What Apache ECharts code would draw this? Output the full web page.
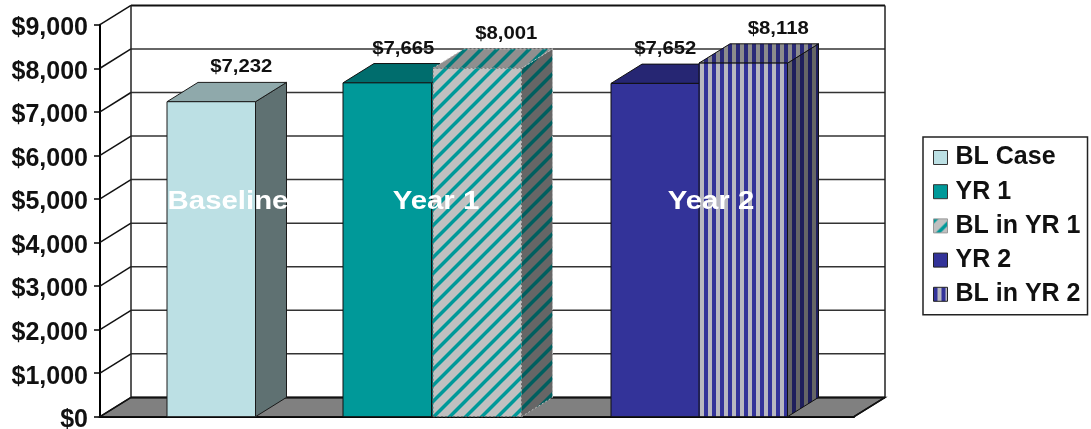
<!DOCTYPE html>
<html>
<head>
<meta charset="utf-8">
<style>html,body{margin:0;padding:0;background:#fff}#chart{width:1091px;height:429px}</style>
<script src="https://cdn.jsdelivr.net/npm/echarts@6/dist/echarts.min.js"></script>
</head>
<body>
<div id="chart"></div>
<script>
// Chart content
const seriesNames = ['BL Case', 'YR 1', 'BL in YR 1', 'YR 2', 'BL in YR 2'];
const seriesValues = [7232, 7665, 8001, 7652, 8118];
const groupLabels = ['Baseline', 'Year 1', 'Year 2'];
const axisTicks = [0, 1000, 2000, 3000, 4000, 5000, 6000, 7000, 8000, 9000];

// Layout of the oblique 3D box, in horizontal axis units (1 unit = 1 px)
const PLOT_WIDTH = 754;
const DEPTH_X = 31;
const DEPTH_Y = -19.3;
const BAR_WIDTH = 88.5;
const barLeft = [67, 243, 333, 511, 599];
const valueLabelShift = [30, 16, 29, 10, 35];
const groupLabelCentre = [128, 336, 611];
const FONT = '"Liberation Sans", Arial, sans-serif';

function stripes(size, bg, fg, diagonal) {
  const c = document.createElement('canvas');
  c.width = c.height = size;
  const g = c.getContext('2d');
  g.fillStyle = bg;
  g.fillRect(0, 0, size, size);
  g.fillStyle = fg;
  if (diagonal) {
    const w = size * 0.31;
    for (const o of [-size, 0, size]) {
      g.beginPath();
      g.moveTo(o, size); g.lineTo(o + w, size);
      g.lineTo(o + size + w, 0); g.lineTo(o + size, 0);
      g.closePath();
      g.fill();
    }
  } else {
    g.fillRect(0, 0, size / 2, size);
  }
  return { image: c, repeat: 'repeat' };
}

const faces = [
  { front: '#bce0e4', top: '#8fa9ab', side: '#5f7172', stroke: '#1a1a1a', rim: '#1a1a1a', dash: null },
  { front: '#009999', top: '#006d6d', side: '#006a6a', stroke: '#111', rim: '#111', dash: null },
  {
    front: stripes(16, '#c0c0c0', '#009999', true),
    top: stripes(16, '#8f8f8f', '#007a7a', true),
    side: stripes(16, '#666666', '#005f5f', true),
    stroke: '#666', rim: '#bbb', dash: [2, 2]
  },
  { front: '#333399', top: '#262673', side: '#1f1f5c', stroke: '#111', rim: '#111', dash: null },
  {
    front: stripes(8, '#b8b8c0', '#333399', false),
    top: stripes(8, '#8c8c8c', '#2a2a78', false),
    side: stripes(8, '#666666', '#1f1f5c', false),
    stroke: '#111', rim: '#111', dash: null
  }
];

function poly(points, fill, stroke, width, dash) {
  return {
    type: 'polygon',
    shape: { points },
    style: { fill, stroke: stroke || null, lineWidth: width === undefined ? 1 : width, lineDash: dash || null }
  };
}
function seg(a, b, stroke, width) {
  return {
    type: 'line',
    shape: { x1: a[0], y1: a[1], x2: b[0], y2: b[1] },
    style: { stroke, lineWidth: width, fill: null }
  };
}
const back = p => [p[0] + DEPTH_X, p[1] + DEPTH_Y];

// Floor, back wall, left wall
function renderWalls(params, api) {
  const o = api.coord([0, 0]);
  const r = api.coord([PLOT_WIDTH, 0]);
  const tl = api.coord([0, 9000]);
  const tr = api.coord([PLOT_WIDTH, 9000]);
  const children = [];
  children.push(poly([o, r, back(r), back(o)], '#808080', '#111', 1.5));
  axisTicks.forEach(v => {
    const a = api.coord([0, v]);
    const b = api.coord([PLOT_WIDTH, v]);
    if (v > 0 && v < 9000) children.push(seg(back(a), back(b), '#333', 1.5));
    children.push(seg(a, back(a), '#111', 1.5));
  });
  children.push(seg(back(tl), back(tr), '#111', 2));
  children.push(seg(back(o), back(tl), '#222', 1.5));
  children.push(seg(back(r), back(tr), '#222', 1.5));
  children.push(seg(back(o), back(r), '#111', 2));
  children.push(seg(r, back(r), '#111', 1.5));
  return { type: 'group', children };
}

// One oblique bar with its value caption
function renderBar(index) {
  return function (params, api) {
    const value = api.value(0);
    const left = barLeft[index];
    const f = faces[index];
    const bl = api.coord([left, 0]);
    const br = api.coord([left + BAR_WIDTH, 0]);
    const tl = api.coord([left, value]);
    const tr = api.coord([left + BAR_WIDTH, value]);
    return {
      type: 'group',
      children: [
        poly([br, tr, back(tr), back(br)], f.side, f.rim, 1, f.dash),
        poly([tl, tr, back(tr), back(tl)], f.top, f.rim, 1, f.dash),
        poly([bl, br, tr, tl], f.front, f.stroke, 1, f.dash),
        {
          type: 'text',
          x: (tl[0] + tr[0]) / 2 + valueLabelShift[index],
          y: tl[1] + DEPTH_Y - 15,
          scaleX: 1.1,
          z2: 10,
          style: {
            text: '$' + value.toLocaleString('en-US'),
            font: 'bold 18.5px ' + FONT,
            fill: '#111',
            align: 'center',
            verticalAlign: 'middle'
          }
        }
      ]
    };
  };
}

// White group captions laid across the bars
function renderGroupLabel(params, api) {
  const p = api.coord([groupLabelCentre[params.dataIndex], 4930]);
  return {
    type: 'text',
    x: p[0],
    y: p[1],
    scaleX: 1.13,
    style: {
      text: groupLabels[params.dataIndex],
      font: 'bold 26px ' + FONT,
      fill: '#fff',
      align: 'center',
      verticalAlign: 'middle'
    }
  };
}

const barSeries = seriesNames.map((name, i) => ({
  name,
  type: 'custom',
  coordinateSystem: 'cartesian2d',
  renderItem: renderBar(i),
  data: [[seriesValues[i]]],
  encode: { x: -1, y: 0 },
  clip: false,
  silent: true,
  z: 3 + i
}));

const legendSwatch = [
  { color: '#bce0e4', borderColor: '#333', borderWidth: 1 },
  { color: '#009999', borderColor: '#333', borderWidth: 1 },
  { color: faces[2].front, borderColor: '#999', borderWidth: 1 },
  { color: '#333399', borderColor: '#222', borderWidth: 1 },
  { color: faces[4].front, borderColor: '#222', borderWidth: 1 }
];

const chart = echarts.init(document.getElementById('chart'), null, { renderer: 'canvas' });
chart.setOption({
  animation: false,
  backgroundColor: '#fff',
  grid: { left: 100, right: 237, top: 24.7, bottom: 12.3, containLabel: false, outerBoundsMode: 'none' },
  xAxis: {
    type: 'value',
    min: 0,
    max: PLOT_WIDTH,
    axisLine: { show: true, onZero: false, lineStyle: { color: '#000', width: 2 } },
    axisTick: { show: false },
    axisLabel: { show: false },
    splitLine: { show: false }
  },
  yAxis: {
    type: 'value',
    min: 0,
    max: 9000,
    interval: 1000,
    axisLine: { show: true, lineStyle: { color: '#000', width: 2 } },
    axisTick: { show: true, length: 6, lineStyle: { color: '#000', width: 1.5 } },
    axisLabel: {
      margin: 12,
      verticalAlign: 'top',
      lineHeight: 7,
      fontFamily: FONT,
      fontWeight: 'bold',
      fontSize: 25,
      color: '#111',
      formatter: v => '$' + v.toLocaleString('en-US')
    },
    splitLine: { show: false }
  },
  legend: {
    orient: 'vertical',
    left: 923,
    top: 137,
    padding: [8, 7, 8, 10],
    itemWidth: 14,
    itemHeight: 14,
    itemGap: 9.2,
    icon: 'rect',
    borderColor: '#222',
    borderWidth: 1.5,
    textStyle: { fontFamily: FONT, fontWeight: 'bold', fontSize: 25, color: '#111', lineHeight: 20, padding: [0, 0, 0, 3] },
    data: seriesNames.map((name, i) => ({ name, itemStyle: legendSwatch[i] }))
  },
  series: [
    {
      name: 'walls',
      type: 'custom',
      renderItem: renderWalls,
      data: [[0]],
      encode: { x: -1, y: 0 },
      clip: false,
      silent: true,
      z: 1
    },
    ...barSeries,
    {
      name: 'group captions',
      type: 'custom',
      renderItem: renderGroupLabel,
      data: groupLabels.map(() => [0]),
      encode: { x: -1, y: 0 },
      clip: false,
      silent: true,
      z: 20
    }
  ]
});
</script>
</body>
</html>
